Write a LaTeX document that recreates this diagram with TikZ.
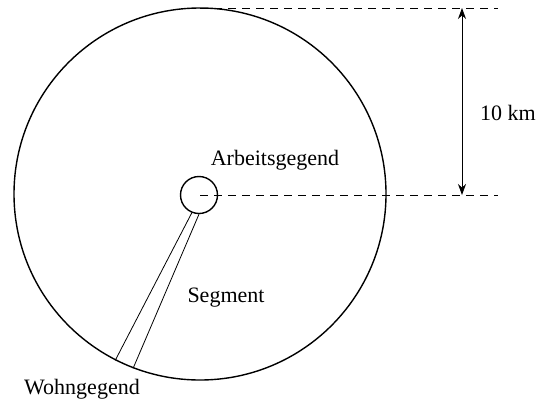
\documentclass[tikz,border=0pt]{standalone}
\usepackage{fontspec}
\setmainfont{Liberation Serif}
\usetikzlibrary{arrows.meta}
\begin{document}
\begin{tikzpicture}[x=1pt,y=-1pt,
  ring/.style={circle,draw,line width=1.4pt,inner sep=0pt},
  thinline/.style={line width=0.8pt},
  dimline/.style={line width=0.8pt,dash pattern=on 8pt off 6pt},
  lbl/.style={font=\fontsize{22}{26}\selectfont,inner sep=0pt}]
\useasboundingbox (0,0) rectangle (537,402);
\node[ring,minimum size=372pt] (big) at (200,194) {};
\node[ring,minimum size=37pt] (small) at (199,195) {};
\coordinate (c) at (200,195);
\coordinate (t0) at (200,8);
\coordinate (t1) at (498,8);
\coordinate (m1) at (498,195);
\coordinate (a1) at (462,8);
\coordinate (a2) at (462,195);
\draw[dimline] (t0) -- (t1);
\draw[dimline] (c) -- (m1);
\draw[line width=0.8pt,{Stealth[length=11pt,width=8pt]}-{Stealth[length=11pt,width=8pt]}] (a1) -- (a2);
\draw[thinline] (small.248.7) -- (big.243.4);
\draw[thinline] (small.270) -- (big.249.8);
\node[lbl] (km) at (508,113) {10 km};
\node[lbl] (arb) at (275,160) {Arbeitsgegend};
\node[lbl] (seg) at (226,298) {Segment};
\node[lbl] (wohn) at (82,389) {Wohngegend};
\end{tikzpicture}
\end{document}
